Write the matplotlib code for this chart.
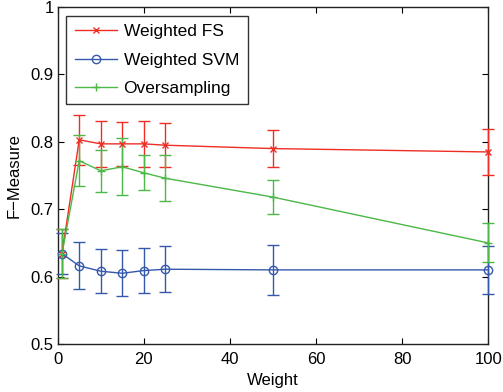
import numpy as np
import matplotlib
matplotlib.use("Agg")
import matplotlib.pyplot as plt

# weights tried in the experiment
weights = [1, 5, 10, 15, 20, 25, 50, 100]

# mean F-measure and error half-widths for each method
fs_mean = [0.634, 0.803, 0.797, 0.797, 0.797, 0.795, 0.790, 0.785]
fs_err = [0.036, 0.037, 0.034, 0.033, 0.034, 0.033, 0.027, 0.034]

svm_mean = [0.634, 0.616, 0.608, 0.605, 0.609, 0.611, 0.610, 0.610]
svm_err = [0.030, 0.035, 0.033, 0.034, 0.034, 0.034, 0.037, 0.036]

over_mean = [0.634, 0.772, 0.757, 0.763, 0.754, 0.746, 0.718, 0.650]
over_err = [0.036, 0.038, 0.031, 0.042, 0.026, 0.034, 0.025, 0.029]

labels = ["Weighted FS", "Weighted SVM", "Oversampling"]
colors = ["#ee2e24", "#3558ad", "#4cb847"]
markers = ["x", "o", "+"]
msizes = [4, 6, 6]

plt.rcParams["font.family"] = ["Liberation Sans", "DejaVu Sans"]
plt.rcParams["font.size"] = 12

fig = plt.figure(figsize=(5.03, 3.92), dpi=100)
ax = fig.add_axes([0.1147, 0.1224, 0.856, 0.8596])

series = [(fs_mean, fs_err), (svm_mean, svm_err), (over_mean, over_err)]
for (m, e), lab, c, mk, ms in zip(series, labels, colors, markers, msizes):
    ax.errorbar(weights, m, yerr=e, color=c, marker=mk, markersize=ms,
                markerfacecolor="none", markeredgewidth=1.0, linewidth=1.0,
                elinewidth=1.0, capsize=4, capthick=1.0, label=lab,
                clip_on=False, zorder=3)

ax.set_xlim(0, 100)
ax.set_ylim(0.5, 1.0)
ax.set_xticks(np.arange(0, 101, 20))
ax.set_yticks([0.5, 0.6, 0.7, 0.8, 0.9, 1.0])
ax.set_yticklabels(["0.5", "0.6", "0.7", "0.8", "0.9", "1"])
ax.tick_params(direction="in", top=True, right=True, length=4, width=0.8,
               labelsize=12)
ax.tick_params(axis="x", pad=6)
ax.tick_params(axis="y", pad=3)
for s in ax.spines.values():
    s.set_linewidth(1.0)
    s.set_color("#222222")

ax.set_xlabel("Weight", fontsize=12, labelpad=4)
ax.set_ylabel("F\u2212Measure", fontsize=12, labelpad=6)

handles, labs = ax.get_legend_handles_labels()
handles = [h[0] for h in handles]
leg = ax.legend(handles, labs, loc="upper left", bbox_to_anchor=(0.012, 0.985),
                fontsize=12.5, frameon=True, fancybox=False, handlelength=2.4,
                borderpad=0.5, labelspacing=0.75, handletextpad=0.4,
                borderaxespad=0.2)
leg.get_frame().set_edgecolor("black")
leg.get_frame().set_linewidth(1.0)

fig.savefig("out.png", dpi=100)
